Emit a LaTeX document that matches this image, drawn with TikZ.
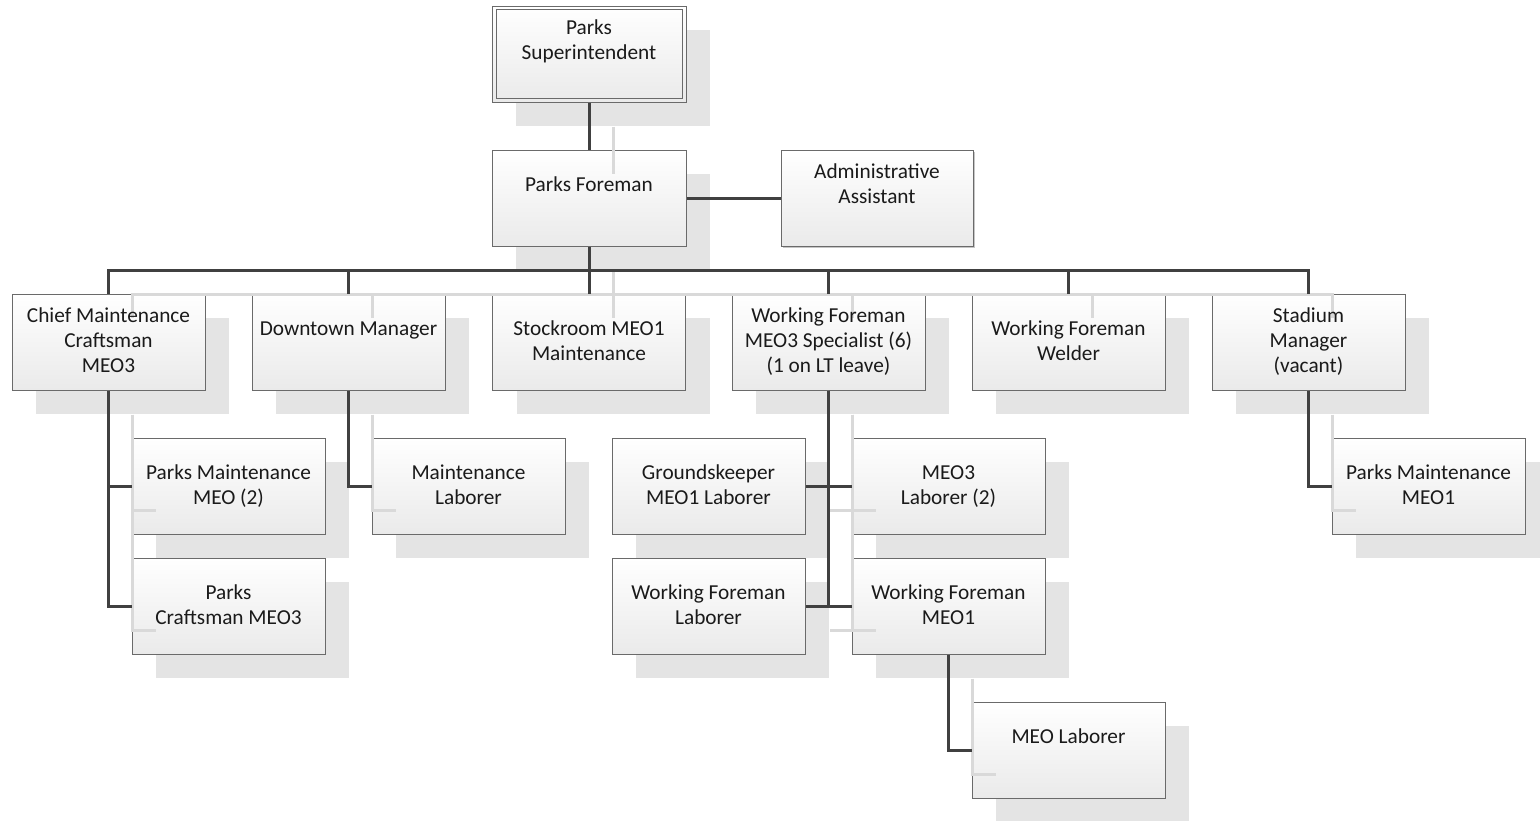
\documentclass[tikz,border=0pt]{standalone}
\usepackage{fontspec}
\setmainfont{Carlito}
\usetikzlibrary{shadows}

\definecolor{wirecol}{HTML}{404040}
\definecolor{wireshade}{HTML}{D9D9D9}
\definecolor{boxshade}{HTML}{E4E4E4}
\definecolor{boxedge}{HTML}{6A6A6A}
\definecolor{boxlow}{HTML}{EAEAEA}
\definecolor{ink}{HTML}{1A1A1A}

\tikzset{
  cardbase/.style={rectangle, draw=boxedge, line width=1pt,
    top color=white, bottom color=boxlow,
    minimum width=193pt, minimum height=96pt, inner sep=0pt},
  orgbox/.style={cardbase,
    general shadow={shadow xshift=24pt, shadow yshift=-24pt, fill=boxshade}},
  thinbox/.style={cardbase, minimum width=192pt,
    general shadow={shadow xshift=2pt, shadow yshift=-2pt, fill=gray!45}},
  cardtext/.style={anchor=north, inner sep=0pt, align=center, text=ink,
    font=\fontsize{21.3}{25}\selectfont, execute at begin node=\strut},
  wire/.style={draw=wirecol, line width=3pt},
}

% reporting lines that cast a shadow
\newcommand\orgwires{%
  \draw[wire] (sup.south) -- (pf.north);
  \draw[wire] (pf.south) -- (sr.north);
  \draw[wire] (cm.north) |- (hub) -| (sm.north);
  \foreach \n in {dm,wf,ww} \draw[wire] (\n.north) |- (hub);
  \draw[wire] (cm.south) |- (pmm.west);
  \draw[wire] (cm.south) |- (pcm.west);
  \draw[wire] (dm.south) |- (mlb.west);
  \draw[wire] (wf.south) |- (gkl.east);
  \draw[wire] (wf.south) |- (m3l.west);
  \draw[wire] (wf.south) |- (wfl.east);
  \draw[wire] (wf.south) |- (wf1.west);
  \draw[wire] (wf1.south) |- (mel.west);
  \draw[wire] (sm.south) |- (pm1.west);
}

\begin{document}
\begin{tikzpicture}[x=1pt, y=-1pt]
  \useasboundingbox (0,0) rectangle (1540,820);

  % top of the chart
  \node[orgbox, minimum width=194pt] (sup) at (589,54) {};
  \draw[boxedge, line width=1pt] ([shift={(4.5pt,-4pt)}]sup.north west)
    rectangle ([shift={(-4.5pt,4pt)}]sup.south east);
  \node[orgbox, minimum width=194pt] (pf) at (589,198) {};
  \node[thinbox] (aa) at (877,198) {};

  % second row
  \node[orgbox] (cm) at (108.5,342) {};
  \node[orgbox] (dm) at (348.5,342) {};
  \node[orgbox] (sr) at (589,342) {};
  \node[orgbox] (wf) at (828.5,342) {};
  \node[orgbox] (ww) at (1068.5,342) {};
  \node[orgbox] (sm) at (1308.5,342) {};

  % third and fourth rows
  \node[orgbox] (pmm) at (228.5,486) {};
  \node[orgbox] (mlb) at (468.5,486) {};
  \node[orgbox] (gkl) at (708.5,486) {};
  \node[orgbox] (m3l) at (948.5,486) {};
  \node[orgbox] (pm1) at (1428.5,486) {};
  \node[orgbox] (pcm) at (228.5,606) {};
  \node[orgbox] (wfl) at (708.5,606) {};
  \node[orgbox] (wf1) at (948.5,606) {};
  \node[orgbox] (mel) at (1068.5,750) {};

  \coordinate (hub) at (589,270);

  % shadows of the reporting lines
  \begin{scope}[transform canvas={shift={(24pt,-24pt)}},
      wire/.style={draw=wireshade, line width=3pt}]
    \orgwires
  \end{scope}
  % reporting lines
  \orgwires
  \draw[wire] (pf.east) -- (aa.west);

  % titles
  \node[cardtext] (sup-t) at ([yshift=-14pt]sup.north) {Parks\\Superintendent};
  \node[cardtext] (pf-t)  at ([yshift=-24.5pt]pf.north) {Parks Foreman};
  \node[cardtext] (aa-t)  at ([yshift=-14pt]aa.north) {Administrative\\Assistant};
  \node[cardtext] (cm-t)  at ([yshift=-14pt]cm.north) {Chief Maintenance\\Craftsman\\MEO3};
  \node[cardtext] (dm-t)  at ([yshift=-24.5pt]dm.north) {Downtown Manager};
  \node[cardtext] (sr-t)  at ([yshift=-27.5pt]sr.north) {Stockroom MEO1\\Maintenance};
  \node[cardtext] (wf-t)  at ([yshift=-14pt]wf.north) {Working Foreman\\MEO3 Specialist (6)\\(1 on LT leave)};
  \node[cardtext] (ww-t)  at ([yshift=-27.5pt]ww.north) {Working Foreman\\Welder};
  \node[cardtext] (sm-t)  at ([yshift=-14pt]sm.north) {Stadium\\Manager\\(vacant)};
  \node[cardtext] (pmm-t) at ([yshift=-27.5pt]pmm.north) {Parks Maintenance\\MEO (2)};
  \node[cardtext] (mlb-t) at ([yshift=-27.5pt]mlb.north) {Maintenance\\Laborer};
  \node[cardtext] (gkl-t) at ([yshift=-27.5pt]gkl.north) {Groundskeeper\\MEO1 Laborer};
  \node[cardtext] (m3l-t) at ([yshift=-27.5pt]m3l.north) {MEO3\\Laborer (2)};
  \node[cardtext] (pm1-t) at ([yshift=-27.5pt]pm1.north) {Parks Maintenance\\MEO1};
  \node[cardtext] (pcm-t) at ([yshift=-27.5pt]pcm.north) {Parks\\Craftsman MEO3};
  \node[cardtext] (wfl-t) at ([yshift=-27.5pt]wfl.north) {Working Foreman\\Laborer};
  \node[cardtext] (wf1-t) at ([yshift=-27.5pt]wf1.north) {Working Foreman\\MEO1};
  \node[cardtext] (mel-t) at ([yshift=-24.5pt]mel.north) {MEO Laborer};
\end{tikzpicture}
\end{document}
